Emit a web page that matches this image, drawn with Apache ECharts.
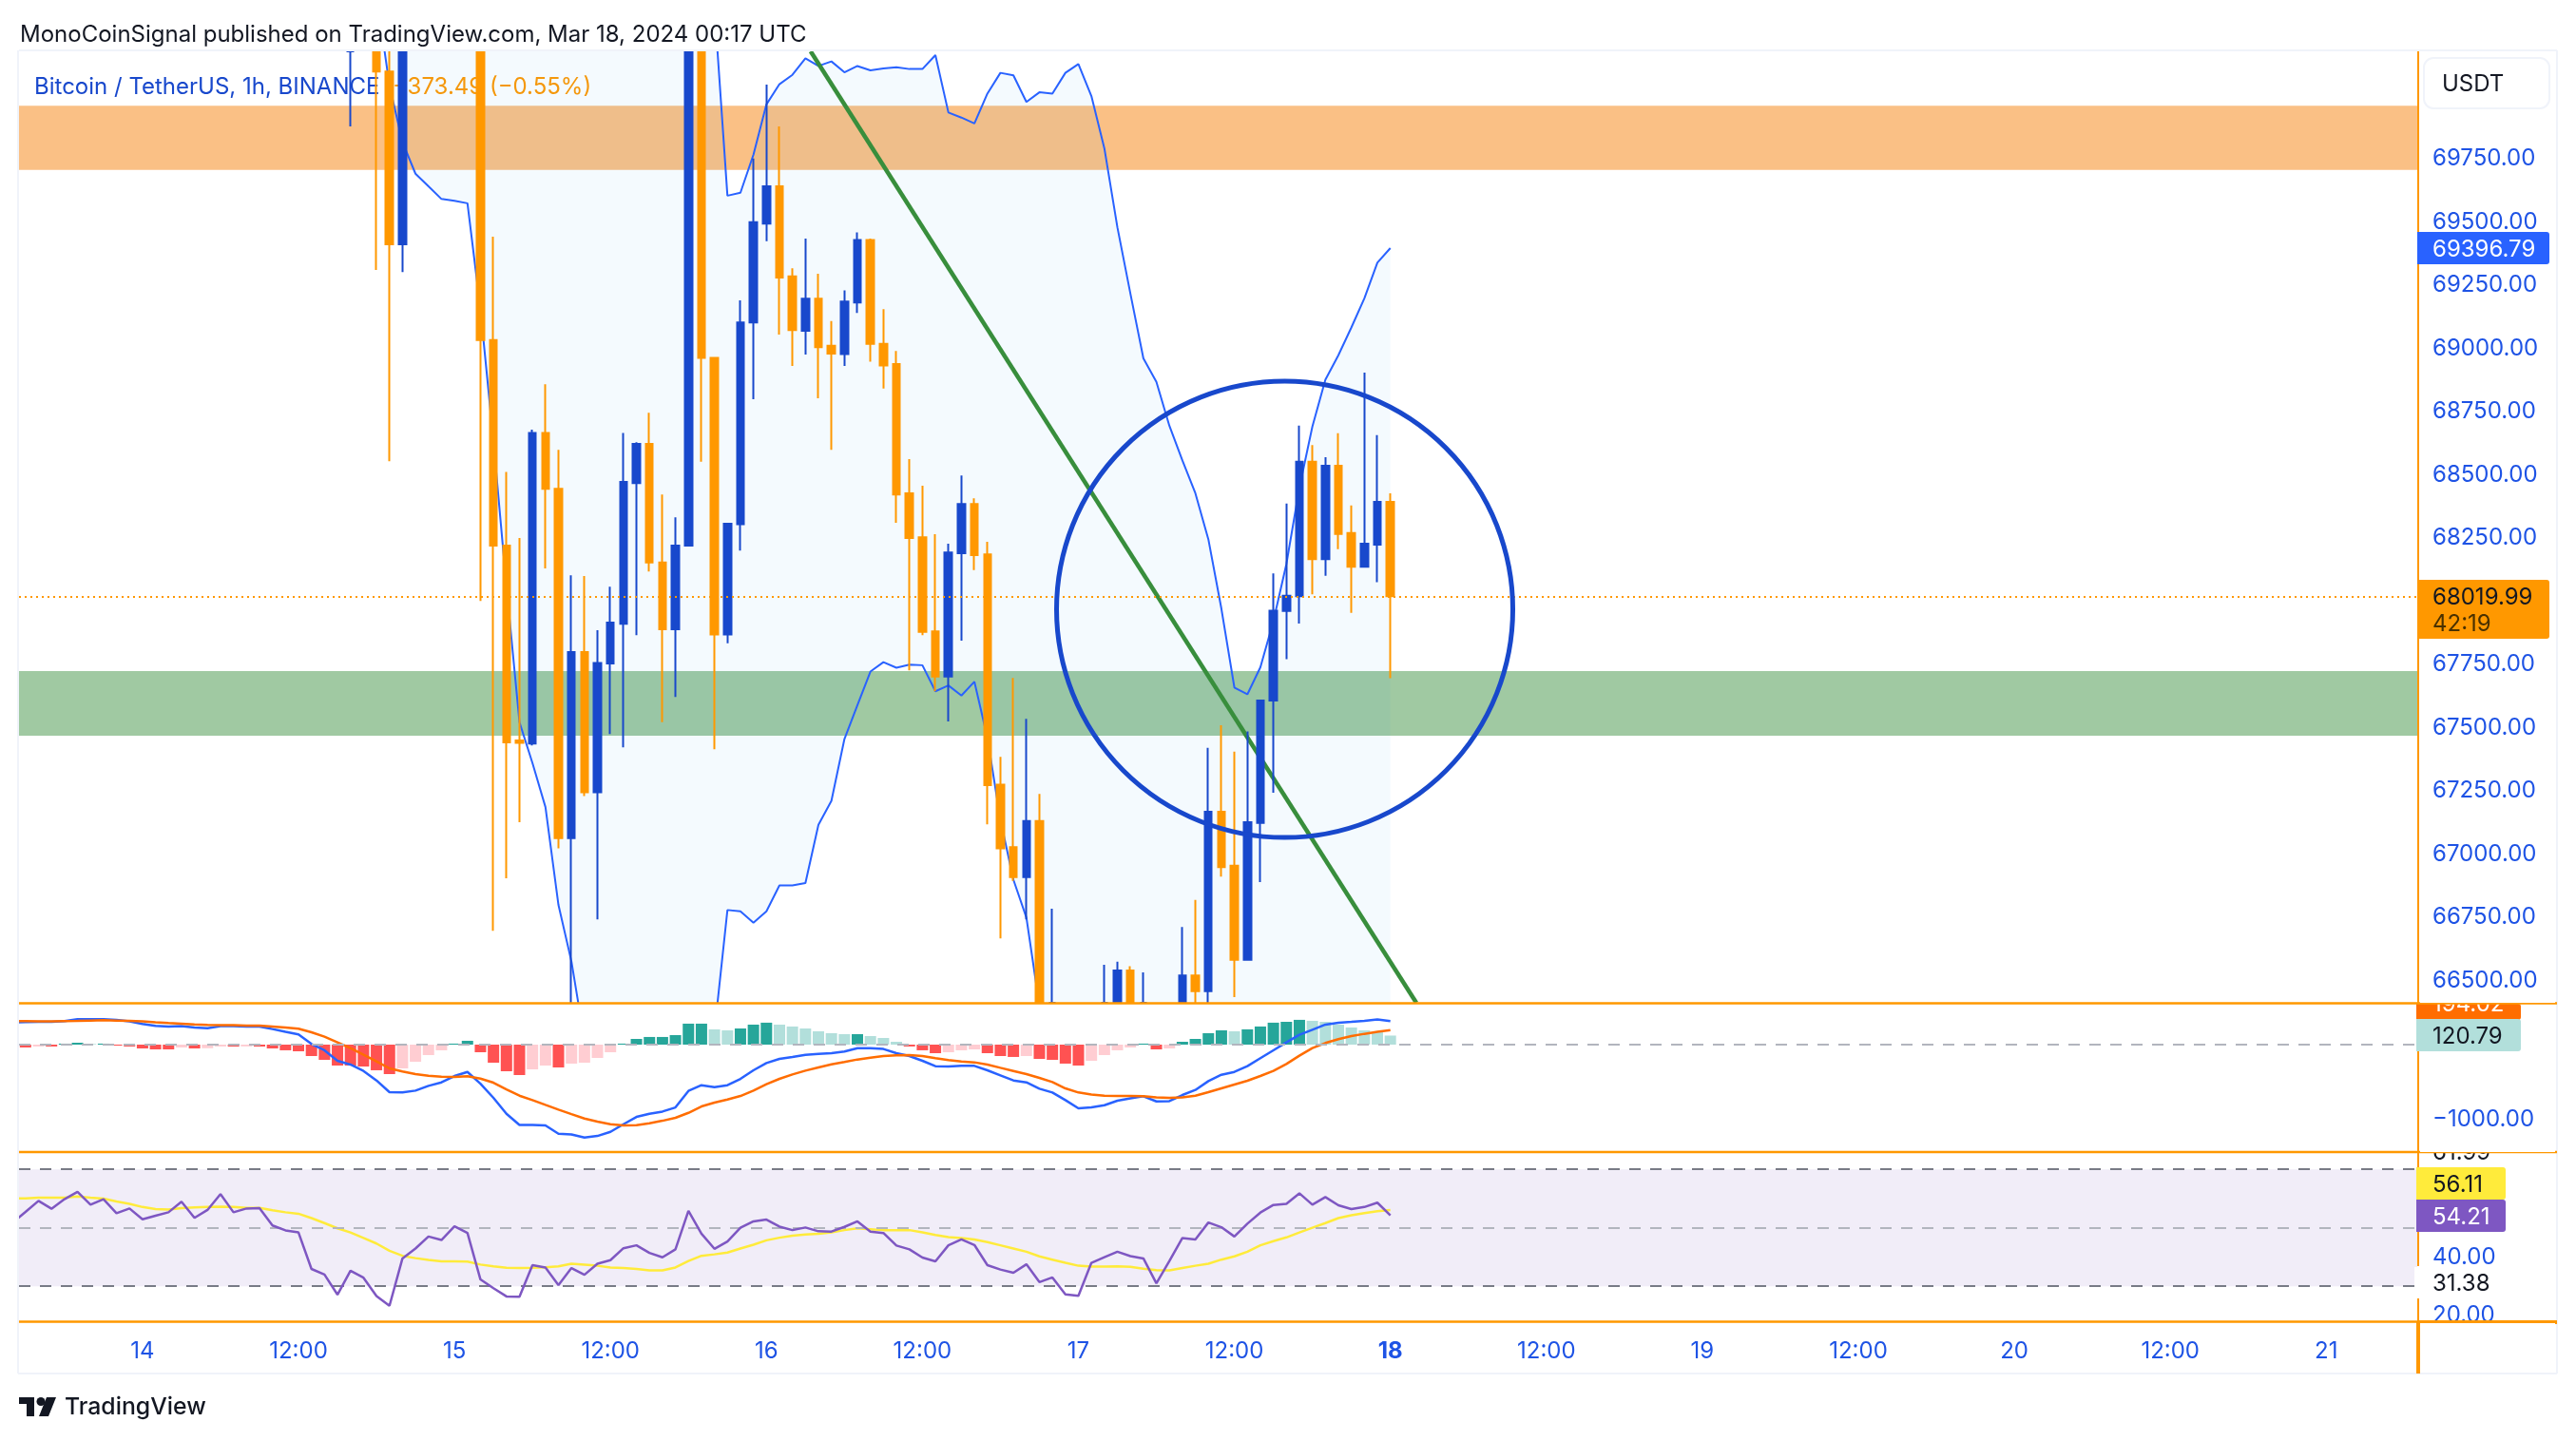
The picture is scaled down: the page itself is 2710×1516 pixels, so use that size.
<!DOCTYPE html>
<html>
<head>
<meta charset="utf-8">
<style>html,body{margin:0;padding:0;background:#fff}#chart{width:2710px;height:1516px}</style>
<script src="https://cdn.jsdelivr.net/npm/echarts@6/dist/echarts.min.js"></script>
</head>
<body>
<div id="chart"></div>
<script>
// hourly bars, index 0 = Mar 13 15:00
const axisLabels = [[9,'14'],[21,'12:00'],[33,'15'],[45,'12:00'],[57,'16'],[69,'12:00'],[81,'17'],[93,'12:00'],[105,'18'],[117,'12:00'],[129,'19'],[141,'12:00'],[153,'20'],[165,'12:00'],[177,'21']];
const priceTicks = [69750,69500,69250,69000,68750,68500,68250,67750,67500,67250,67000,66750,66500];

// [bar, open, close, low, high]
const candles = [
[25,70300,70400,69878,70600],[27,70350,70095,69310,70400],[28,70095,69412,68554,70300],[29,69412,70500,69302,70550],
[35,70400,69033,68001,70500],[36,69033,68220,66697,69442],[37,68220,67442,66904,68512],[38,67450,67440,67126,68250],
[39,67437,68666,67430,68679],[40,68666,68445,68130,68858],[41,68445,67063,67023,68599],[42,67063,67799,66350,68103],
[43,67799,67245,67230,68100],[44,67245,67756,66742,67886],[45,67754,67916,67475,68058],[46,67911,68472,67422,68666],
[47,68467,68622,67866,68629],[48,68622,68153,68118,68746],[49,68153,67889,67522,68422],[50,67889,68220,67622,68332],
[51,68220,70450,68218,70500],[52,70450,68963,68552,70500],[53,68963,67869,67415,68963],[54,67869,68307,67834,68307],
[55,68305,69103,68200,69190],[56,69103,69499,68799,69751],[57,69494,69641,69424,70043],[58,69641,69280,69055,69878],
[59,69285,69073,68931,69317],[60,69070,69197,68976,69434],[61,69197,69005,68803,69295],[62,69011,68980,68599,69108],
[63,68978,69185,68931,69230],[64,69182,69429,69140,69459],[65,69429,69018,68948,69434],[66,69018,68933,68841,69155],
[67,68938,68422,68310,68990],[68,68427,68250,67727,68562],[69,68253,67879,67866,68457],[70,67881,67702,67644,68265],
[71,67702,68193,67525,68228],[72,68190,68385,67844,68497],[73,68385,68183,68123,68407],[74,68185,67273,67118,68235],
[75,67275,67023,66667,67385],[76,67028,66909,66894,67697],[77,66909,67131,66742,67535],[78,67131,66300,66250,67238],
[79,66250,66350,66200,66784],[83,66200,66350,66180,66562],[84,66300,66540,66250,66575],[85,66540,66300,66250,66557],
[86,66350,66300,66250,66532],[89,66380,66520,66300,66712],[90,66520,66458,66380,66819],[91,66458,67168,66350,67420],
[92,67168,66949,66911,67510],[93,66954,66582,66435,67405],[94,66582,67126,66582,67485],[95,67123,67607,66889,67607],
[96,67607,67963,67243,68110],[97,67962,68022,67771,68387],[98,68020,68552,67912,68695],[99,68552,68167,68028,68618],
[100,68167,68536,68101,68570],[101,68536,68266,68206,68665],[102,68270,68137,67954,68379],[103,68137,68228,68137,68904],
[104,68224,68393,68075,68657],[105,68393,68020,67696,68427]
];

// envelope around price, bars 27..105
const envStart = 27;
const upperEnv = [
73000,72950,72900,72850,72800,72750,72700,72650,72600,72500,
72400,72300,72200,72100,72000,71900,71800,71700,71600,71500,
71400,71300,71200,71100,70900,70700,70352,69604,69616,69766,69965,
70045,70082,70147,70117,70135,70092,70117,70100,70107,70112,
70105,70105,70160,69933,69913,69890,70008,70090,70080,69975,
70013,70008,70090,70125,69998,69791,69479,69217,68961,68868,
68694,68557,68427,68245,67971,67659,67632,67739,67921,68147,
68449,68691,68876,68973,69083,69198,69339,69396.79
];
const lowerEnv = [
70400,70040,69816,69691,69641,69591,69584,69574,69155,68632,
68058,67522,67360,67186,66799,66575,66263,66150,66100,66050,
66000,65950,65950,65950,65950,65950,66298,66779,66774,66729,
66774,66876,66876,66886,67116,67211,67455,67589,67722,67759,
67737,67749,67747,67644,67667,67627,67682,67460,67136,66899,
66749,66400,66250,66150,66100,66050,66000,65950,65900,65900,
65900,65900,65900,65900,65900,65900,65900,65900,65900,65900,
65900,65900,65900,65900,65900,65900,65900,65900,65900
];

const trendLine = [[60.4,70175],[107,66412]];
const circleCentre = [96.87,67968];
const orangeZone = [69706,69960];
const greenZone = [67468,67724];
const lastPrice = 68019.99;
const priceRange = [66412,70175];

// MACD pane: histogram bars 0..105, lines bars -1..105
const macdHist = [
-38,-25,-25,13,25,8,13,-13,-25,-51,
-64,-64,-38,-51,-48,-25,-26,-24,-26,-51,
-76,-89,-153,-204,-280,-280,-293,-343,-394,-318,
-229,-140,-76,13,51,-102,-242,-356,-407,-331,
-280,-305,-254,-242,-178,-102,13,76,102,102,
127,280,280,204,191,216,267,293,267,242,
216,178,153,140,140,114,89,38,-25,-76,
-115,-102,-76,-64,-115,-153,-165,-153,-191,-204,
-254,-280,-216,-140,-76,-38,13,-64,-51,38,
76,153,191,178,204,242,293,305,331,318,
305,267,229,191,165,120.79
];
const macdLine = [297,
301,305,305,314,339,339,339,331,310,276,
250,242,246,229,220,246,246,242,242,208,
170,136,8,-76,-216,-267,-352,-479,-636,-640,
-615,-551,-505,-420,-365,-522,-712,-924,-1073,-1073,
-1081,-1191,-1200,-1242,-1221,-1166,-1064,-967,-924,-895,
-840,-619,-543,-568,-543,-458,-343,-246,-191,-165,
-136,-123,-114,-93,-47,-47,-59,-114,-153,-216,
-288,-293,-284,-284,-343,-411,-479,-505,-589,-640,
-742,-852,-840,-810,-750,-717,-691,-759,-755,-674,
-606,-488,-403,-365,-288,-182,-76,30,131,199,
267,293,305,318,335,314
];
const signalLine = [314,
314,310,310,314,318,322,326,322,318,310,
297,288,280,271,263,259,259,254,254,242,
229,212,165,106,30,-47,-136,-225,-318,-360,
-394,-416,-428,-432,-424,-454,-509,-598,-683,-742,
-806,-869,-929,-988,-1030,-1064,-1081,-1077,-1052,-1018,
-979,-912,-827,-776,-734,-687,-615,-530,-458,-399,
-348,-305,-263,-233,-199,-174,-153,-144,-140,-153,
-182,-208,-225,-237,-267,-310,-352,-394,-445,-500,
-585,-640,-666,-683,-687,-687,-691,-704,-712,-704,
-683,-636,-585,-534,-483,-420,-352,-259,-148,-47,
21,72,114,144,170,194.02
];

// RSI pane, bars -1..105
const rsiLine = [51.7,
55.4,59.2,56.5,59.8,62.3,57.9,59.8,55.0,56.6,52.9,
54.1,55.3,58.9,53.4,56.1,61.5,55.3,56.6,56.7,50.8,
49.1,48.4,35.9,34.0,27.1,35.3,32.9,26.6,23.3,39.5,
42.9,47.0,45.8,50.5,48.2,32.3,29.3,26.5,26.4,37.2,
36.4,30.4,36.2,33.9,37.7,38.9,43.0,44.0,41.4,39.9,
42.6,55.8,48.0,42.8,45.3,50.0,52.2,52.8,50.4,49.2,
50.1,48.8,48.7,50.3,52.2,48.7,48.2,43.9,42.6,39.8,
38.5,44.0,46.0,44.1,37.2,35.7,34.6,37.5,31.4,33.0,
27.2,26.7,38.0,39.9,41.8,40.3,39.5,31.0,38.6,46.5,
46.0,51.8,50.2,47.0,51.4,55.2,57.8,58.2,61.8,57.9,
60.5,57.7,56.4,57.1,58.6,54.21
];
const rsiMa = [60.1,
60.1,60.3,60.3,60.3,60.7,60.3,60.0,59.0,58.2,57.1,
56.4,56.2,56.7,57.0,57.1,57.2,57.1,56.8,56.8,56.0,
55.3,54.8,53.3,51.6,49.8,48.4,46.5,44.6,42.1,40.4,
39.6,39.0,38.5,38.5,38.4,37.4,36.8,36.3,36.2,36.3,
36.5,36.8,37.7,37.4,37.0,36.4,36.2,35.9,35.4,35.4,
36.4,38.6,40.4,40.9,41.5,42.9,44.2,45.7,46.6,47.3,
47.7,47.9,48.4,49.2,49.8,49.5,49.2,49.2,49.2,48.4,
47.5,46.8,46.5,46.0,45.1,44.0,42.9,41.8,40.2,39.1,
38.0,37.0,36.7,36.7,36.8,36.6,36.0,35.5,35.4,36.2,
37.0,37.7,39.1,40.2,41.8,44.0,45.4,46.7,48.4,50.0,
51.6,53.3,54.3,55.0,55.7,56.11
];

const BLUE = '#1848CC', ORANGE = '#FF9800', LINE = '#2962FF', TEXT_BLUE = '#1E53E5';
const FONT = 'Inter, sans-serif';
const FS = 24;

const at = (arr, start) => arr.map((v, i) => [i + (start || 0), v]);
const barColor = (v, i) => {
  const prev = i ? macdHist[i - 1] : 0;
  if (v >= 0) return v >= prev ? '#26A69A' : '#B2DFDB';
  return v <= prev ? '#FF5252' : '#FFCDD2';
};
// candlestick series does not clip its boxes, so hold them at the pane edge
const inPane = v => Math.min(priceRange[1], Math.max(priceRange[0], v));

const xBase = {
  type: 'value', min: -0.5, max: 184, splitLine: { show: false },
  axisLine: { show: false }, axisTick: { show: false }
};
const yBase = {
  type: 'value', position: 'right', scale: true, splitLine: { show: false },
  axisLine: { show: false }, axisTick: { show: false },
  axisLabel: { color: TEXT_BLUE, fontFamily: FONT, fontSize: FS, margin: 16, align: 'left', padding: [5, 0, 0, 0] }
};

const txt = (x, y, s, fill, extra) => ({
  type: 'text', x, y: y + 2, z: 100,
  style: Object.assign({ text: s, fill, font: FS + 'px ' + FONT, verticalAlign: 'middle' }, extra || {})
});
const box = (x, y, w, h, fill, r) => ({
  type: 'rect', z: 99, shape: { x, y, width: w, height: h, r: r ? [0, r, r, 0] : 0 }, style: { fill }
});
const ln = (x1, y1, x2, y2, w, c) => ({
  type: 'line', z: 101, shape: { x1, y1, x2, y2 }, style: { stroke: c || ORANGE, lineWidth: w }
});

const chart = echarts.init(document.getElementById('chart'), null, { renderer: 'canvas' });

chart.setOption({
  animation: false,
  backgroundColor: '#fff',
  grid: [
    { left: 20, top: 54, width: 2523, height: 1001 },
    { left: 20, top: 1056, width: 2523, height: 156 },
    { left: 20, top: 1213, width: 2523, height: 177 }
  ],
  xAxis: [
    Object.assign({}, xBase, { gridIndex: 0, axisLabel: { show: false } }),
    Object.assign({}, xBase, { gridIndex: 1, axisLabel: { show: false } }),
    Object.assign({}, xBase, {
      gridIndex: 2,
      axisLabel: {
        show: true, color: TEXT_BLUE, fontFamily: FONT, fontSize: FS, margin: 20,
        customValues: axisLabels.map(d => d[0]),
        formatter: v => {
          const s = axisLabels.find(d => d[0] === v)[1];
          return s === '18' ? '{b|18}' : s;
        },
        rich: { b: { fontWeight: 'bold', color: TEXT_BLUE, fontFamily: FONT, fontSize: FS } }
      }
    })
  ],
  yAxis: [
    Object.assign({}, yBase, {
      gridIndex: 0, min: priceRange[0], max: priceRange[1],
      axisLabel: Object.assign({}, yBase.axisLabel, { customValues: priceTicks, formatter: v => v.toFixed(2) })
    }),
    Object.assign({}, yBase, {
      gridIndex: 1, min: -1436, max: 546,
      axisLabel: Object.assign({}, yBase.axisLabel, { customValues: [0, -1000], formatter: v => v.toFixed(2).replace('-', '\u2212') })
    }),
    Object.assign({}, yBase, {
      gridIndex: 2, min: 18, max: 75.6,
      axisLabel: Object.assign({}, yBase.axisLabel, { customValues: [40, 20], formatter: v => v.toFixed(2) })
    })
  ],
  series: [
    // envelope fill, one polygon through both lines
    {
      type: 'custom', xAxisIndex: 0, yAxisIndex: 0, z: 1, clip: true, data: [[envStart, upperEnv[0]]],
      renderItem: (params, api) => {
        const pts = upperEnv.map((v, i) => api.coord([i + envStart, v]));
        for (let i = lowerEnv.length - 1; i >= 0; i--) pts.push(api.coord([i + envStart, lowerEnv[i]]));
        return { type: 'polygon', shape: { points: pts }, style: { fill: 'rgba(33,150,243,0.05)' } };
      }
    },
    {
      name: 'lower', type: 'line', xAxisIndex: 0, yAxisIndex: 0, z: 1,
      symbol: 'none', data: at(lowerEnv, envStart),
      lineStyle: { color: LINE, width: 2 }
    },
    {
      name: 'upper', type: 'line', xAxisIndex: 0, yAxisIndex: 0, z: 1,
      symbol: 'none', data: at(upperEnv, envStart),
      lineStyle: { color: LINE, width: 2 }
    },
    // trend line under the zones
    {
      type: 'line', xAxisIndex: 0, yAxisIndex: 0, z: 2, symbol: 'none', data: trendLine,
      lineStyle: { color: '#388E3C', width: 4.5 }
    },
    // zones, last price line
    {
      type: 'line', xAxisIndex: 0, yAxisIndex: 0, z: 3, symbol: 'none', data: [],
      markArea: {
        silent: true,
        data: [
          [{ yAxis: orangeZone[1], xAxis: -0.5, itemStyle: { color: 'rgba(245,124,0,0.48)' } }, { yAxis: orangeZone[0], xAxis: 184 }],
          [{ yAxis: greenZone[1], xAxis: -0.5, itemStyle: { color: 'rgba(56,142,60,0.48)' } }, { yAxis: greenZone[0], xAxis: 184 }]
        ]
      },
      markLine: {
        silent: true, symbol: 'none', label: { show: false },
        lineStyle: { color: ORANGE, type: [2, 4], width: 2 },
        data: [{ yAxis: lastPrice }]
      }
    },
    {
      type: 'candlestick', xAxisIndex: 0, yAxisIndex: 0, z: 4, barWidth: 8,
      data: candles.map(c => [c[0], inPane(c[1]), inPane(c[2]), inPane(c[3]), inPane(c[4])]),
      encode: { x: 0, y: [1, 2, 3, 4] },
      itemStyle: { color: BLUE, color0: ORANGE, borderColor: BLUE, borderColor0: ORANGE, borderWidth: 2 }
    },
    {
      type: 'scatter', xAxisIndex: 0, yAxisIndex: 0, z: 5, symbol: 'circle', symbolSize: 480,
      data: [circleCentre], itemStyle: { color: 'rgba(0,0,0,0)', borderColor: BLUE, borderWidth: 5, opacity: 1 }
    },
    // MACD
    {
      type: 'bar', xAxisIndex: 1, yAxisIndex: 1, barWidth: 12, z: 2,
      data: macdHist.map((v, i) => ({ value: [i, v], itemStyle: { color: barColor(v, i) } })),
      markLine: {
        silent: true, symbol: 'none', label: { show: false },
        lineStyle: { color: '#B2B5BE', type: [12, 10], width: 2 }, data: [{ yAxis: 0 }]
      }
    },
    { type: 'line', xAxisIndex: 1, yAxisIndex: 1, z: 3, symbol: 'none', data: at(macdLine, -1), lineStyle: { color: LINE, width: 2.5 } },
    { type: 'line', xAxisIndex: 1, yAxisIndex: 1, z: 4, symbol: 'none', data: at(signalLine, -1), lineStyle: { color: '#FF6D00', width: 2.5 } },
    // RSI
    {
      type: 'line', xAxisIndex: 2, yAxisIndex: 2, z: 4, symbol: 'none', data: at(rsiMa, -1),
      lineStyle: { color: '#FFEB3B', width: 2.5 },
      markArea: {
        silent: true, itemStyle: { color: 'rgba(126,87,194,0.11)' },
        data: [[{ yAxis: 70, xAxis: -0.5 }, { yAxis: 30, xAxis: 184 }]]
      },
      markLine: {
        silent: true, symbol: 'none', label: { show: false },
        data: [
          { yAxis: 70, lineStyle: { color: '#787B86', type: [12, 10], width: 2 } },
          { yAxis: 50, lineStyle: { color: '#B2B5BE', type: [12, 10], width: 2 } },
          { yAxis: 30, lineStyle: { color: '#787B86', type: [12, 10], width: 2 } }
        ]
      }
    },
    { type: 'line', xAxisIndex: 2, yAxisIndex: 2, z: 5, symbol: 'none', data: at(rsiLine, -1), lineStyle: { color: '#7E57C2', width: 2.5 } }
  ],
  graphic: { elements: [
    // legend sits under the candles
    Object.assign(txt(36, 90, 'Bitcoin / TetherUS, 1h, BINANCE', BLUE), { z: 1 }),
    Object.assign(txt(413, 90, '\u2212373.49 (\u22120.55%)', ORANGE), { z: 1 }),
    txt(21, 35, 'MonoCoinSignal published on TradingView.com, Mar 18, 2024 00:17 UTC', '#131722'),
    // frame
    ln(20, 53, 2690, 53, 2, '#F0F3FA'), ln(19, 53, 19, 1445, 2, '#F0F3FA'),
    ln(2690, 53, 2690, 1445, 2, '#F0F3FA'), ln(19, 1445, 2690, 1445, 2, '#F0F3FA'),
    // white masks clip tag text at the pane edges
    Object.assign(box(2546, 1042, 142, 13, '#fff'), { z: 103 }),
    Object.assign(box(2546, 1193, 142, 19, '#fff'), { z: 103 }),
    Object.assign(box(2546, 1392, 142, 18, '#fff'), { z: 103 }),
    // tags
    { type: 'rect', z: 100, shape: { x: 2550, y: 61, width: 132, height: 53, r: 10 }, style: { fill: '#fff', stroke: '#F0F3FA', lineWidth: 2 } },
    txt(2569, 87, 'USDT', '#131722'),
    box(2543, 244, 139, 34, '#2962FF', 3), txt(2559, 261, '69396.79', '#fff'),
    box(2543, 610, 139, 62, ORANGE, 3), txt(2559, 627, '68019.99', '#131722'), txt(2559, 655, '42:19', '#4A3100'),
    box(2542, 1056, 110, 17, '#FF6D00', 3), txt(2559, 1055, '194.02', '#fff'),
    box(2542, 1072, 110, 34, '#B2DFDB', 3), txt(2559, 1089, '120.79', '#131722'),
    txt(2559, 1211, '61.99', '#131722'),
    box(2542, 1228, 94, 34, '#FFEB3B', 3), txt(2559, 1245, '56.11', '#131722'),
    box(2542, 1262, 94, 34, '#7E57C2', 3), txt(2559, 1279, '54.21', '#fff'),
    box(2540, 1333, 140, 33, '#fff'), txt(2559, 1349, '31.38', '#131722'),
    // pane dividers and price scale line
    ln(20, 1055.5, 2690, 1055.5, 2.5), ln(20, 1212, 2690, 1212, 2.5), ln(20, 1390.5, 2543, 1390.5, 2.5),
    ln(2543, 1391, 2690, 1391, 4),
    Object.assign(ln(2544, 54, 2544, 1332, 2), { z: 98 }),
    ln(2544, 1366, 2544, 1391, 2),
    ln(2544, 1391, 2544, 1445, 4),
    // logo
    { type: 'polygon', z: 100, shape: { points: [[20, 1470], [36, 1470], [36, 1490], [28, 1490], [28, 1477], [20, 1477]] }, style: { fill: '#131722' } },
    { type: 'circle', z: 100, shape: { cx: 43, cy: 1474.5, r: 4.5 }, style: { fill: '#131722' } },
    { type: 'polygon', z: 100, shape: { points: [[49, 1470], [59, 1470], [51, 1490], [41, 1490]] }, style: { fill: '#131722' } },
    txt(68, 1479, 'TradingView', '#131722', { font: '500 24.8px ' + FONT })
  ] }
});
</script>
</body>
</html>
